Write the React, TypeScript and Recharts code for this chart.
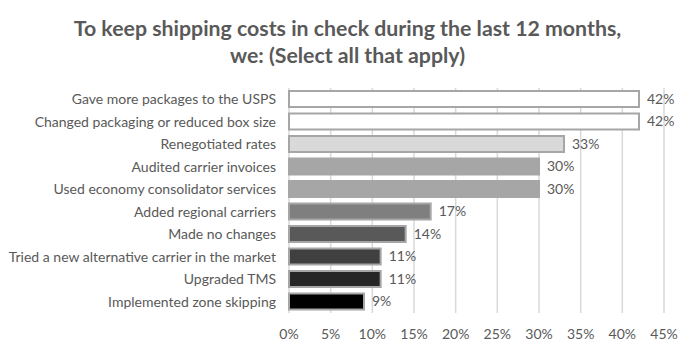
import { BarChart, Bar, XAxis, YAxis, CartesianGrid, LabelList, Cell } from 'recharts';

const categories = [
  'Gave more packages to the USPS',
  'Changed packaging or reduced box size',
  'Renegotiated rates',
  'Audited carrier invoices',
  'Used economy consolidator services',
  'Added regional carriers',
  'Made no changes',
  'Tried a new alternative carrier in the market',
  'Upgraded TMS',
  'Implemented zone skipping',
];
const values = [42, 42, 33, 30, 30, 17, 14, 11, 11, 9];
const fills = ['#ffffff', '#ffffff', '#d9d9d9', '#a6a6a6', '#a6a6a6', '#7f7f7f', '#595959', '#404040', '#262626', '#000000'];
const xTicks = [0, 5, 10, 15, 20, 25, 30, 35, 40, 45];

const data = categories.map((name, i) => ({ name, value: values[i] }));

const FONT = 'Lato, "Open Sans", sans-serif';
const TEXT = '#595959';

export default function App() {
  return (
    <div style={{ position: 'absolute', left: 0, top: 0, width: 695, height: 352, background: '#fff', fontFamily: FONT }}>
      <div
        style={{
          position: 'absolute',
          left: 0,
          top: 15,
          width: 695,
          textAlign: 'center',
          color: TEXT,
          fontWeight: 700,
          fontSize: 21.3,
          lineHeight: '27px',
        }}
      >
        To keep shipping costs in check during the last 12 months,
        <br />
        we: (Select all that apply)
      </div>
      <div style={{ position: 'absolute', left: 0, top: 0 }}>
        <BarChart
          width={695}
          height={352}
          data={data}
          layout="vertical"
          margin={{ top: 88, right: 31, left: 0, bottom: 8 }}
          barSize={16}
        >
          <CartesianGrid horizontal={false} stroke="#d9d9d9" strokeWidth={1.5} />
          <XAxis
            type="number"
            domain={[0, 45]}
            ticks={xTicks}
            tickFormatter={(v) => `${v}%`}
            axisLine={false}
            tickLine={false}
            height={31}
            tickMargin={10}
            interval={0}
            tick={{ fill: TEXT, fontSize: 14, fontFamily: FONT }}
          />
          <YAxis
            type="category"
            dataKey="name"
            width={289}
            axisLine={false}
            tickLine={false}
            tickMargin={7}
            interval={0}
            tick={{ fill: TEXT, fontSize: 14, fontFamily: FONT }}
          />
          <Bar dataKey="value" isAnimationActive={false} stroke="#a6a6a6" strokeWidth={2}>
            {data.map((d, i) => (
              <Cell key={d.name} fill={fills[i]} />
            ))}
            <LabelList
              dataKey="value"
              position="right"
              offset={8}
              formatter={(v: number) => `${v}%`}
              style={{ fill: TEXT, fontSize: 14, fontFamily: FONT }}
            />
          </Bar>
        </BarChart>
      </div>
    </div>
  );
}
